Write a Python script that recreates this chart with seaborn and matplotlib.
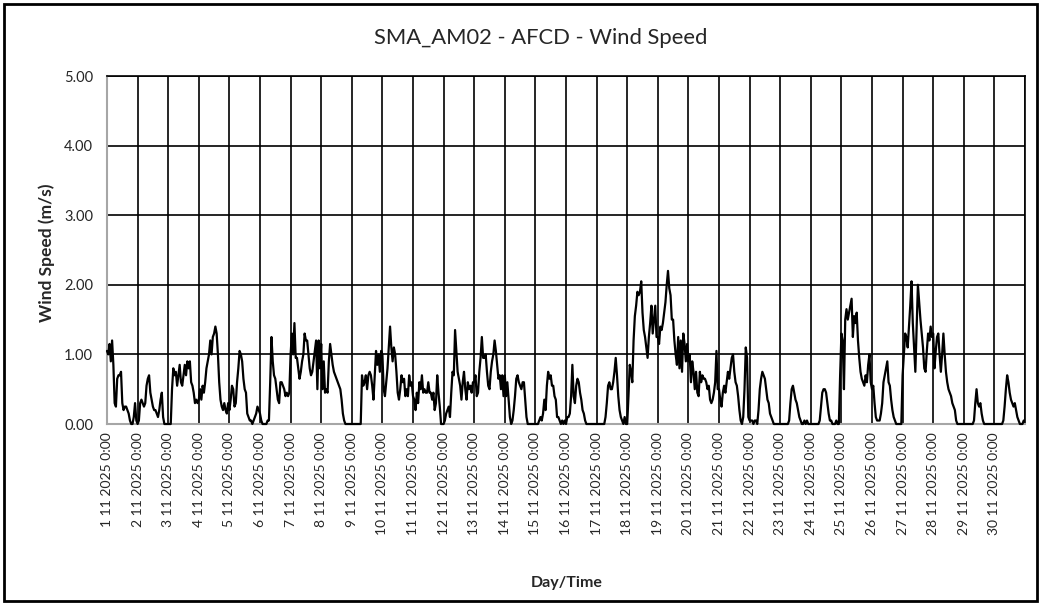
import matplotlib
matplotlib.use("Agg")
import matplotlib.pyplot as plt
import numpy as np
import pandas as pd
import seaborn as sns
from matplotlib.patches import Rectangle

# hourly wind speed (m/s), one list per day of November 2025
nov01 = [1.05, 1.0, 1.15, 0.9, 1.2, 0.85, 0.3, 0.25, 0.65, 0.7, 0.7, 0.75, 0.3, 0.2, 0.25, 0.25, 0.2, 0.15, 0.05, 0.0, 0.0, 0.1, 0.3, 0.05]
nov02 = [0.0, 0.05, 0.3, 0.35, 0.3, 0.25, 0.3, 0.55, 0.65, 0.7, 0.45, 0.35, 0.25, 0.2, 0.2, 0.15, 0.1, 0.2, 0.35, 0.45, 0.1, 0.0, 0.0, 0.0]
nov03 = [0.0, 0.0, 0.0, 0.5, 0.8, 0.7, 0.75, 0.55, 0.7, 0.85, 0.6, 0.55, 0.7, 0.85, 0.7, 0.9, 0.8, 0.9, 0.6, 0.55, 0.45, 0.3, 0.35, 0.3]
nov04 = [0.35, 0.5, 0.35, 0.55, 0.45, 0.6, 0.8, 0.9, 1.0, 1.2, 1.0, 1.25, 1.3, 1.4, 1.3, 1.0, 0.6, 0.35, 0.25, 0.2, 0.3, 0.2, 0.15, 0.3]
nov05 = [0.2, 0.35, 0.55, 0.5, 0.25, 0.3, 0.6, 0.8, 1.05, 1.0, 0.9, 0.65, 0.5, 0.45, 0.15, 0.1, 0.05, 0.05, 0.0, 0.05, 0.1, 0.15, 0.25, 0.2]
nov06 = [0.15, 0.05, 0.0, 0.0, 0.0, 0.0, 0.05, 0.05, 0.6, 1.25, 0.9, 0.7, 0.65, 0.5, 0.35, 0.3, 0.6, 0.6, 0.55, 0.5, 0.4, 0.45, 0.4, 0.45]
nov07 = [1.0, 1.3, 1.0, 1.45, 0.95, 0.95, 0.8, 0.65, 0.75, 0.9, 1.0, 1.3, 1.2, 1.2, 1.0, 0.8, 0.7, 0.75, 0.9, 1.05, 1.2, 0.5, 1.2, 0.8]
nov08 = [1.15, 0.5, 0.9, 0.45, 0.5, 0.45, 0.9, 1.15, 1.0, 0.85, 0.75, 0.7, 0.65, 0.6, 0.55, 0.5, 0.35, 0.15, 0.05, 0.0, 0.0, 0.0, 0.0, 0.0]
nov09 = [0.0, 0.0, 0.0, 0.0, 0.0, 0.0, 0.0, 0.0, 0.7, 0.55, 0.6, 0.7, 0.5, 0.7, 0.75, 0.7, 0.55, 0.35, 0.7, 1.05, 0.85, 1.0, 0.75, 1.05]
nov10 = [1.0, 0.5, 0.4, 0.6, 0.8, 1.1, 1.4, 1.1, 0.9, 1.1, 1.0, 0.75, 0.45, 0.35, 0.5, 0.7, 0.6, 0.65, 0.4, 0.5, 0.4, 0.7, 0.55, 0.6]
nov11 = [0.4, 0.35, 0.2, 0.45, 0.3, 0.6, 0.5, 0.7, 0.45, 0.5, 0.45, 0.45, 0.6, 0.45, 0.45, 0.35, 0.45, 0.2, 0.3, 0.7, 0.45, 0.25, 0.0, 0.0]
nov12 = [0.0, 0.05, 0.15, 0.2, 0.25, 0.1, 0.45, 0.75, 0.7, 1.35, 1.05, 0.75, 0.65, 0.55, 0.35, 0.6, 0.75, 0.5, 0.35, 0.6, 0.5, 0.55, 0.45, 0.6]
nov13 = [0.6, 0.7, 0.4, 0.45, 0.75, 0.95, 1.25, 0.95, 0.95, 1.0, 0.75, 0.55, 0.5, 0.75, 0.9, 1.0, 1.2, 1.05, 0.85, 0.65, 0.7, 0.5, 0.7, 0.4]
nov14 = [0.7, 0.4, 0.6, 0.35, 0.1, 0.0, 0.05, 0.2, 0.4, 0.65, 0.7, 0.6, 0.55, 0.5, 0.6, 0.6, 0.35, 0.1, 0.0, 0.0, 0.0, 0.0, 0.0, 0.0]
nov15 = [0.0, 0.0, 0.0, 0.05, 0.1, 0.05, 0.15, 0.35, 0.2, 0.55, 0.75, 0.65, 0.7, 0.55, 0.55, 0.4, 0.35, 0.1, 0.1, 0.05, 0.0, 0.05, 0.0, 0.05]
nov16 = [0.0, 0.1, 0.1, 0.15, 0.4, 0.85, 0.4, 0.3, 0.55, 0.65, 0.6, 0.45, 0.35, 0.2, 0.15, 0.05, 0.0, 0.0, 0.0, 0.0, 0.0, 0.0, 0.0, 0.0]
nov17 = [0.0, 0.0, 0.0, 0.0, 0.0, 0.0, 0.0, 0.1, 0.3, 0.55, 0.6, 0.5, 0.5, 0.6, 0.75, 0.95, 0.7, 0.4, 0.2, 0.1, 0.05, 0.0, 0.1, 0.0]
nov18 = [0.0, 0.4, 0.85, 0.75, 0.6, 1.2, 1.55, 1.7, 1.9, 1.85, 1.9, 2.05, 1.6, 1.35, 1.25, 1.1, 0.95, 1.25, 1.45, 1.7, 1.3, 1.5, 1.7, 1.25]
nov19 = [1.25, 1.15, 1.4, 1.35, 1.45, 1.6, 1.75, 2.0, 2.2, 1.95, 1.85, 1.5, 1.5, 1.2, 1.0, 0.85, 1.25, 0.8, 1.2, 0.75, 1.3, 1.15, 0.9, 1.15]
nov20 = [0.9, 1.0, 0.6, 0.9, 0.75, 0.5, 0.75, 0.45, 0.4, 0.75, 0.6, 0.7, 0.65, 0.65, 0.6, 0.5, 0.55, 0.35, 0.3, 0.35, 0.45, 0.6, 1.05, 0.5]
nov21 = [0.5, 0.35, 0.25, 0.45, 0.55, 0.45, 0.6, 0.75, 0.65, 0.8, 0.95, 1.0, 0.75, 0.6, 0.55, 0.4, 0.2, 0.05, 0.0, 0.1, 0.5, 1.1, 0.95, 0.1]
nov22 = [0.05, 0.05, 0.05, 0.0, 0.05, 0.05, 0.0, 0.2, 0.5, 0.65, 0.75, 0.7, 0.65, 0.5, 0.35, 0.3, 0.15, 0.1, 0.05, 0.0, 0.0, 0.0, 0.0, 0.0]
nov23 = [0.0, 0.0, 0.0, 0.0, 0.0, 0.0, 0.0, 0.05, 0.3, 0.5, 0.55, 0.45, 0.35, 0.3, 0.2, 0.1, 0.05, 0.0, 0.0, 0.05, 0.0, 0.05, 0.0, 0.0]
nov24 = [0.0, 0.0, 0.0, 0.0, 0.0, 0.0, 0.0, 0.05, 0.25, 0.45, 0.5, 0.5, 0.45, 0.3, 0.15, 0.05, 0.05, 0.0, 0.0, 0.0, 0.05, 0.0, 0.0, 0.7]
nov25 = [1.3, 1.2, 0.5, 1.5, 1.65, 1.5, 1.6, 1.7, 1.8, 1.25, 1.55, 1.45, 1.6, 1.2, 0.95, 0.75, 0.65, 0.6, 0.55, 0.7, 0.6, 0.85, 1.0, 0.6]
nov26 = [0.5, 0.55, 0.3, 0.1, 0.05, 0.05, 0.05, 0.15, 0.3, 0.6, 0.7, 0.8, 0.9, 0.6, 0.55, 0.35, 0.2, 0.1, 0.05, 0.0, 0.0, 0.0, 0.0, 0.0]
nov27 = [0.7, 1.0, 1.3, 1.25, 1.1, 1.4, 1.7, 2.05, 1.45, 1.1, 0.75, 1.4, 2.0, 1.75, 1.5, 1.3, 1.1, 0.8, 0.75, 1.05, 1.3, 1.2, 1.4, 1.25]
nov28 = [1.3, 0.8, 1.05, 1.25, 1.3, 1.0, 0.75, 1.0, 1.3, 1.0, 0.75, 0.6, 0.5, 0.45, 0.4, 0.3, 0.25, 0.2, 0.05, 0.0, 0.0, 0.0, 0.0, 0.0]
nov29 = [0.0, 0.0, 0.0, 0.0, 0.0, 0.0, 0.0, 0.0, 0.05, 0.3, 0.5, 0.3, 0.25, 0.3, 0.15, 0.05, 0.0, 0.0, 0.0, 0.0, 0.0, 0.0, 0.0, 0.0]
nov30 = [0.0, 0.0, 0.0, 0.0, 0.0, 0.0, 0.0, 0.05, 0.25, 0.5, 0.7, 0.6, 0.45, 0.35, 0.3, 0.25, 0.3, 0.2, 0.1, 0.05, 0.0, 0.0, 0.0, 0.05]

days = [nov01, nov02, nov03, nov04, nov05, nov06, nov07, nov08, nov09, nov10,
        nov11, nov12, nov13, nov14, nov15, nov16, nov17, nov18, nov19, nov20,
        nov21, nov22, nov23, nov24, nov25, nov26, nov27, nov28, nov29, nov30]
day_labels = [f"{d} 11 2025 0:00" for d in range(1, 31)]
y_ticks = [0, 1, 2, 3, 4, 5]

speed = np.concatenate([np.asarray(d, dtype=float) for d in days])
df = pd.DataFrame({"hour": np.arange(len(speed)), "speed": speed})

sns.set_style("white")
plt.rcParams["font.family"] = ["Lato", "DejaVu Sans"]

W, H = 1041, 605
fig = plt.figure(figsize=(W / 100, H / 100), dpi=100)
left, right, top, bottom = 107, 1025, 76, 424
ax = fig.add_axes([left / W, 1 - bottom / H, (right - left) / W, (bottom - top) / H])

sns.lineplot(data=df, x="hour", y="speed", color="black", linewidth=1.6, ax=ax)
for line in ax.lines:
    line.set_clip_on(False)
    line.set_zorder(3)

ax.set_xlim(0, len(speed))
ax.set_ylim(0, 5)
ax.set_xticks(np.arange(0, len(speed), 24))
ax.set_xticklabels(day_labels, rotation=90, fontsize=10, va="top", ha="center")
ax.set_yticks(y_ticks)
ax.set_yticklabels([f"{v:.2f}" for v in y_ticks], fontsize=10.5)
ax.tick_params(axis="x", length=0, pad=6)
ax.tick_params(axis="y", length=0, pad=10)
ax.set_xlabel("")
ax.set_ylabel("")

for d in range(1, 31):
    ax.axvline(d * 24, color="black", linewidth=1.2, zorder=1)
for v in y_ticks[1:]:
    ax.axhline(v, color="black", linewidth=1.2, zorder=1)

for side in ["left", "bottom"]:
    ax.spines[side].set_color("#a6a6a6")
    ax.spines[side].set_linewidth(1.5)
for side in ["top", "right"]:
    ax.spines[side].set_color("black")
    ax.spines[side].set_linewidth(1.2)

fig.text(541 / W, 1 - 38 / H, "SMA_AM02 - AFCD - Wind Speed", fontsize=15.8,
         ha="center", va="center")
fig.text(47 / W, 1 - 253 / H, "Wind Speed (m/s)", fontsize=12.5, weight="bold",
         rotation=90, ha="center", va="center")
fig.text(567 / W, 1 - 583 / H, "Day/Time", fontsize=11.5, weight="bold",
         ha="center", va="center")

fig.patches.append(Rectangle((4 / W, 4 / H), 1 - 8 / W, 1 - 8 / H, transform=fig.transFigure,
                             fill=False, edgecolor="black", linewidth=2.0))

fig.savefig("out.png", dpi=100)
